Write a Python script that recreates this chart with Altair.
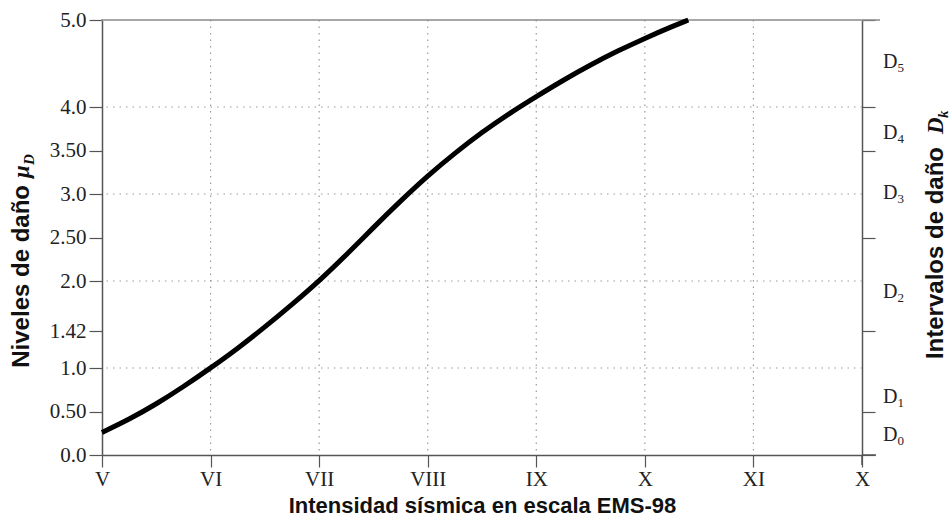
import altair as alt
import pandas as pd

# Mean damage grade versus EMS-98 intensity
intensity = [5.0, 5.25, 5.5, 5.75, 6.0, 6.25, 6.5, 6.75, 7.0, 7.25, 7.5, 7.75,
             8.0, 8.25, 8.5, 8.75, 9.0, 9.25, 9.5, 9.75, 10.0, 10.25, 10.4]
damage = [0.26, 0.41, 0.585, 0.785, 1.00, 1.225, 1.47, 1.73, 2.00, 2.30, 2.615, 2.92,
          3.21, 3.47, 3.71, 3.925, 4.12, 4.31, 4.485, 4.645, 4.79, 4.925, 5.00]

# Axis ticks and labels
x_tick_values = [5, 6, 7, 8, 9, 10, 11, 12]
x_tick_labels = ["V", "VI", "VII", "VIII", "IX", "X", "XI", "X"]
y_tick_values = [0, 0.5, 1, 1.42, 2, 2.5, 3, 3.5, 4, 5]
y_tick_labels = ["0.0", "0.50", "1.0", "1.42", "2.0", "2.50", "3.0", "3.50", "4.0", "5.0"]
grid_x = [6, 7, 8, 9, 10, 11]
grid_y = [1, 2, 3, 4]

# Damage intervals on the right-hand axis
interval_bounds = [0, 0.5, 1.42, 2.5, 3.5, 4.0, 5.0]
interval_letter = ["D", "D", "D", "D", "D", "D"]
interval_index = ["0", "1", "2", "3", "4", "5"]
interval_label_pos = [0.23, 0.67, 1.87, 3.01, 3.70, 4.52]

W, H = 760, 435
AXIS_GREY = "#555555"
SERIF = "Liberation Serif"
SANS = "Liberation Sans"


def label_expr(values, labels):
    expr = "''"
    for v, lab in reversed(list(zip(values, labels))):
        expr = f"abs(datum.value - {v}) < 1e-6 ? '{lab}' : ({expr})"
    return expr


x_scale = alt.Scale(domain=[5, 12], nice=False, zero=False)
y_scale = alt.Scale(domain=[0, 5], nice=False, zero=False)

curve_df = pd.DataFrame({"I": intensity, "mu": damage})

curve = alt.Chart(curve_df).mark_line(
    color="black", strokeWidth=5, interpolate="basis"
).encode(
    x=alt.X("I:Q", scale=x_scale, axis=alt.Axis(
        values=x_tick_values, labelExpr=label_expr(x_tick_values, x_tick_labels),
        grid=False, domainColor=AXIS_GREY, domainWidth=1.5, tickColor=AXIS_GREY,
        tickSize=12, tickWidth=1.2, labelFont=SERIF, labelFontSize=21,
        labelColor="#222222", labelPadding=1, labelFlush=False, labelOverlap=False,
        title="Intensidad sísmica en escala EMS-98", titleFont=SANS,
        titleFontSize=22, titleFontWeight="bold", titleColor="#111111",
        titleX=W / 2, titleY=57, titleBaseline="alphabetic")),
    y=alt.Y("mu:Q", scale=y_scale, axis=alt.Axis(
        values=y_tick_values, labelExpr=label_expr(y_tick_values, y_tick_labels),
        grid=False, domainColor=AXIS_GREY, domainWidth=1.5, tickColor=AXIS_GREY,
        tickSize=13, tickWidth=1.2, labelFont=SERIF, labelFontSize=21,
        labelColor="#222222", labelPadding=3, labelFlush=False, labelOverlap=False,
        title=None)),
)

grid_v = alt.Chart(pd.DataFrame({"g": grid_x})).mark_rule(
    color="#9a9a9a", strokeWidth=1.2, strokeDash=[1.5, 5]
).encode(x=alt.X("g:Q", scale=x_scale, axis=None))

grid_h = alt.Chart(pd.DataFrame({"g": grid_y})).mark_rule(
    color="#9a9a9a", strokeWidth=1.2, strokeDash=[1.5, 5]
).encode(y=alt.Y("g:Q", scale=y_scale, axis=None))

top_border = alt.Chart(pd.DataFrame({"g": [5.0]})).mark_rule(
    color="#8a8a8a", strokeWidth=1.5
).encode(y=alt.Y("g:Q", scale=y_scale, axis=None),
         x=alt.value(-1), x2=alt.value(W + 18))

bottom_ext = alt.Chart(pd.DataFrame({"g": [0.0]})).mark_rule(
    color=AXIS_GREY, strokeWidth=1.5
).encode(y=alt.Y("g:Q", scale=y_scale, axis=None),
         x=alt.value(W), x2=alt.value(W + 14))

right_ext = alt.Chart(pd.DataFrame({"g": [12.0]})).mark_rule(
    color=AXIS_GREY, strokeWidth=1.5
).encode(x=alt.X("g:Q", scale=x_scale, axis=None),
         y=alt.value(H), y2=alt.value(H + 10))

right_axis = alt.Chart(pd.DataFrame({"b": interval_bounds})).mark_point(
    opacity=0
).encode(
    x=alt.value(W),
    y=alt.Y("b:Q", scale=y_scale, axis=alt.Axis(
        orient="right", values=interval_bounds, labels=False, grid=False,
        domainColor=AXIS_GREY, domainWidth=1.5, tickColor=AXIS_GREY,
        tickSize=13, tickWidth=1.2, title=None)),
)

labels_df = pd.DataFrame({"pos": interval_label_pos, "L": interval_letter,
                          "k": interval_index})
interval_letters = alt.Chart(labels_df).mark_text(
    align="left", baseline="middle", font=SERIF, fontSize=20, color="#222222"
).encode(x=alt.value(W + 21), y=alt.Y("pos:Q", scale=y_scale, axis=None),
         text="L:N")
interval_subs = alt.Chart(labels_df).mark_text(
    align="left", baseline="middle", font=SERIF, fontSize=13, color="#222222",
    dy=6
).encode(x=alt.value(W + 35.5), y=alt.Y("pos:Q", scale=y_scale, axis=None),
         text="k:N")

# Left axis title: "Niveles de daño μ_D"
LX, LY = -80, 165
left_main = alt.Chart(pd.DataFrame({"t": ["Niveles de daño"]})).mark_text(
    angle=270, align="right", baseline="middle", font=SANS, fontSize=24,
    fontWeight="bold", color="#111111"
).encode(text="t:N", x=alt.value(LX), y=alt.value(LY))
left_mu = alt.Chart(pd.DataFrame({"t": ["μ"]})).mark_text(
    angle=270, align="left", baseline="middle", font=SERIF, fontSize=23,
    fontWeight="bold", fontStyle="italic", color="#111111", dx=7
).encode(text="t:N", x=alt.value(LX), y=alt.value(LY))
left_sub = alt.Chart(pd.DataFrame({"t": ["D"]})).mark_text(
    angle=270, align="left", baseline="middle", font=SERIF, fontSize=15,
    fontWeight="bold", fontStyle="italic", color="#111111", dx=20, dy=7
).encode(text="t:N", x=alt.value(LX), y=alt.value(LY))

# Right axis title: "Intervalos de daño D_k"
RX, RY = 834, 127
right_main = alt.Chart(pd.DataFrame({"t": ["Intervalos de daño"]})).mark_text(
    angle=270, align="right", baseline="middle", font=SANS, fontSize=24,
    fontWeight="bold", color="#111111"
).encode(text="t:N", x=alt.value(RX), y=alt.value(RY))
right_d = alt.Chart(pd.DataFrame({"t": ["D"]})).mark_text(
    angle=270, align="left", baseline="middle", font=SERIF, fontSize=23,
    fontWeight="bold", fontStyle="italic", color="#111111", dx=13
).encode(text="t:N", x=alt.value(RX), y=alt.value(RY))
right_k = alt.Chart(pd.DataFrame({"t": ["k"]})).mark_text(
    angle=270, align="left", baseline="middle", font=SERIF, fontSize=15,
    fontWeight="bold", fontStyle="italic", color="#111111", dx=29, dy=7
).encode(text="t:N", x=alt.value(RX), y=alt.value(RY))

chart = alt.layer(
    grid_v, grid_h, top_border, bottom_ext, right_ext, curve, right_axis,
    interval_letters, interval_subs,
    left_main, left_mu, left_sub, right_main, right_d, right_k,
).resolve_axis(x="independent", y="independent").properties(
    width=W, height=H,
    autosize=alt.AutoSizeParams(type="none"),
    padding={"left": 102, "top": 20, "right": 90, "bottom": 70},
    background="white",
).configure_view(strokeWidth=0)

chart.save("out.html", embed_options={"renderer": "svg", "actions": False})
